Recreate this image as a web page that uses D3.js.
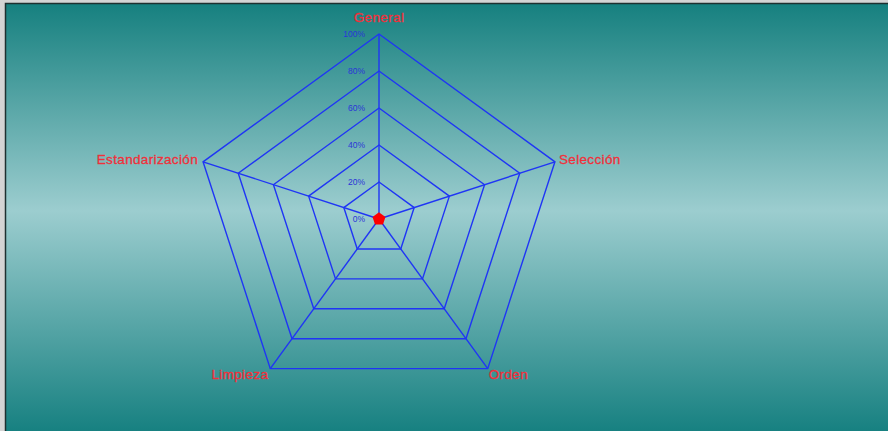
<html>
<head>
<meta charset="utf-8">
<style>
  body { margin: 0; background: #d4d4d4; }
  svg { display: block; }
</style>
</head>
<body>
<div id="chart"></div>
<script src="https://cdnjs.cloudflare.com/ajax/libs/d3/7.8.5/d3.min.js"></script>
<script>
var axes = ["General", "Selección", "Orden", "Limpieza", "Estandarización"];
var values = [3, 3, 3, 3, 3];
var levels = [0, 20, 40, 60, 80, 100];
var tickLabels = ["0%", "20%", "40%", "60%", "80%", "100%"];

var width = 888, height = 431;
var cx = 379, cy = 219, radius = 185;

var svg = d3.select("#chart").append("svg")
    .attr("width", width)
    .attr("height", height);

var defs = svg.append("defs");
var grad = defs.append("linearGradient")
    .attr("id", "bg").attr("x1", 0).attr("y1", 0).attr("x2", 0).attr("y2", 1);
grad.append("stop").attr("offset", "0%").attr("stop-color", "#16807f");
grad.append("stop").attr("offset", "47%").attr("stop-color", "#9ccdcf");
grad.append("stop").attr("offset", "100%").attr("stop-color", "#0f7c7c");

// background panel, runs off the right/bottom edge
svg.append("rect")
    .attr("x", 5.5).attr("y", 3.5)
    .attr("width", width + 10).attr("height", height + 10)
    .attr("fill", "url(#bg)")
    .attr("stroke", "#1e3030").attr("stroke-width", 1.5);

var r = d3.scaleLinear().domain([0, 100]).range([0, radius]);
var angle = d3.scaleLinear().domain([0, axes.length]).range([0, 2 * Math.PI]);

function pt(i, v) {
  var a = angle(i);
  return [cx + r(v) * Math.sin(a), cy - r(v) * Math.cos(a)];
}

var g = svg.append("g");

// grid rings
levels.filter(function(l) { return l > 0; }).forEach(function(l) {
  g.append("polygon")
    .attr("points", axes.map(function(d, i) { return pt(i, l).join(","); }).join(" "))
    .attr("fill", "none")
    .attr("stroke", "#1f35f5")
    .attr("stroke-width", 1.4);
});

// spokes
g.selectAll(".spoke").data(axes).enter().append("line")
  .attr("class", "spoke")
  .attr("x1", cx).attr("y1", cy)
  .attr("x2", function(d, i) { return pt(i, 100)[0]; })
  .attr("y2", function(d, i) { return pt(i, 100)[1]; })
  .attr("stroke", "#1f35f5")
  .attr("stroke-width", 1.4);

// tick labels
g.selectAll(".tick").data(levels).enter().append("text")
  .attr("class", "tick")
  .attr("x", cx - 14)
  .attr("y", function(d) { return cy - r(d) + 3; })
  .attr("text-anchor", "end")
  .attr("font-family", "Liberation Sans, Arial, sans-serif")
  .attr("font-size", 8.5)
  .attr("fill", "#2b35d8")
  .text(function(d, i) { return tickLabels[i]; });

// data polygon
g.append("polygon")
  .attr("points", values.map(function(v, i) { return pt(i, v).join(","); }).join(" "))
  .attr("fill", "#ff0000")
  .attr("stroke", "#ff0000")
  .attr("stroke-width", 2);

// axis labels
g.selectAll(".axis-label").data(axes).enter().append("text")
  .attr("class", "axis-label")
  .attr("x", function(d, i) {
    var p = pt(i, 100);
    var s = Math.sin(angle(i)), c = Math.cos(angle(i));
    if (Math.abs(s) < 0.01) return p[0];
    var off = c > 0 ? 4 : 1;
    return p[0] + (s > 0 ? off : -off - 1);
  })
  .attr("y", function(d, i) {
    var p = pt(i, 100);
    var c = Math.cos(angle(i));
    if (i === 0) return p[1] - 12;
    return c > 0 ? p[1] + 2 : p[1] + 10;
  })
  .attr("text-anchor", function(d, i) {
    var s = Math.sin(angle(i));
    return Math.abs(s) < 0.01 ? "middle" : (s > 0 ? "start" : "end");
  })
  .attr("font-family", "Liberation Sans, Arial, sans-serif")
  .attr("font-size", 13.5)
  .attr("letter-spacing", 0.35)
  .attr("stroke", "#f0303a")
  .attr("stroke-width", 0.3)
  .attr("fill", "#f0303a")
  .text(function(d) { return d; });
</script>
</body>
</html>
